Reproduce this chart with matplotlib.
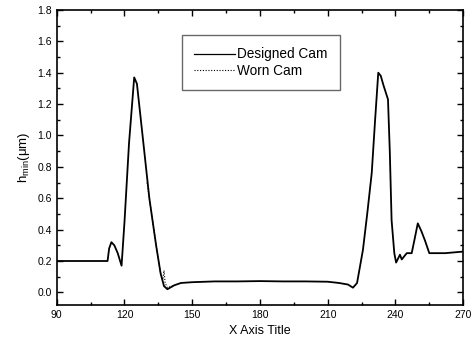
import numpy as np
import matplotlib.pyplot as plt
from matplotlib.ticker import MultipleLocator

plt.rcParams['font.family'] = ['Liberation Sans', 'DejaVu Sans']

# Designed cam: angle vs minimum film thickness
x_designed = [90, 100, 112.5, 113.2, 114.2, 115.5, 117, 118.7, 120, 122, 124.3, 125.5,
              128, 131, 134, 136, 137.5, 139, 142, 145, 150, 160, 170, 180, 190,
              200, 210, 215, 219, 221.2, 223, 225.6, 227.5, 229.5, 231, 232.4, 233.5,
              234.7, 236.7, 237.5, 238.3, 239.5, 240.3, 242, 242.8, 245, 247.2, 248.5,
              249.9, 251.5, 253.1, 255, 258, 262, 266, 270]
h_designed = [0.2, 0.2, 0.2, 0.28, 0.32, 0.30, 0.25, 0.17, 0.45, 0.95, 1.37, 1.33,
              1.0, 0.6, 0.3, 0.12, 0.04, 0.02, 0.045, 0.06, 0.065, 0.07, 0.07, 0.072, 0.07,
              0.07, 0.068, 0.06, 0.05, 0.03, 0.06, 0.27, 0.5, 0.76, 1.1, 1.40, 1.38,
              1.32, 1.23, 0.9, 0.46, 0.25, 0.19, 0.24, 0.21, 0.25, 0.25, 0.34,
              0.44, 0.39, 0.33, 0.25, 0.25, 0.25, 0.255, 0.26]

# Worn cam: overlaps the designed curve except for a small spike near 137 deg
x_worn = [130, 134, 136, 137, 137.5, 138, 139, 142]
h_worn = [0.7, 0.3, 0.12, 0.08, 0.14, 0.06, 0.03, 0.045]

fig = plt.figure(figsize=(4.77, 3.55), dpi=100)
ax = fig.add_axes([0.119, 0.141, 0.852, 0.831])

ax.plot(x_designed, h_designed, color='black', lw=1.3, label='Designed Cam')
ax.plot(x_worn, h_worn, color='black', lw=0.8, ls=(0, (1, 1.5)), label='Worn Cam')

ax.set_xlim(90, 270)
ax.set_ylim(-0.08, 1.8)
ax.xaxis.set_major_locator(MultipleLocator(30))
ax.xaxis.set_minor_locator(MultipleLocator(15))
ax.yaxis.set_major_locator(MultipleLocator(0.2))
ax.yaxis.set_minor_locator(MultipleLocator(0.1))
ax.tick_params(which='both', direction='in', top=True, right=True, labelsize=7.5, width=1)
ax.tick_params(which='major', length=4)
ax.tick_params(which='minor', length=2)
for s in ax.spines.values():
    s.set_linewidth(1.2)

ax.set_xlabel('X Axis Title', fontsize=9)
ax.set_ylabel(r'h$_{\mathregular{min}}$($\mathregular{\mu}$m)', fontsize=9.5)

leg = ax.legend(loc='upper center', bbox_to_anchor=(0.502, 0.915), fontsize=9.8,
                frameon=True, fancybox=False, edgecolor='#444444', handlelength=3.0,
                handletextpad=0.2, borderpad=0.9, borderaxespad=0, labelspacing=0.2)
leg.get_frame().set_linewidth(1)
leg.get_lines()[0].set_linewidth(0.9)

fig.savefig('out.png', dpi=100)
